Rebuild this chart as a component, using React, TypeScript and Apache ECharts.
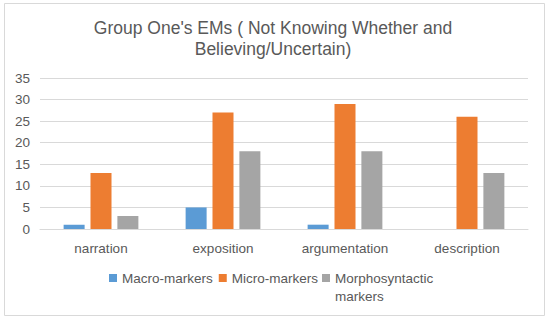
import React, { useEffect, useRef } from "react";
import * as echarts from "echarts";

const categories = ["narration", "exposition", "argumentation", "description"];
const macroMarkers = [1, 5, 1, 0];
const microMarkers = [13, 27, 29, 26];
const morphoMarkers = [3, 18, 18, 13];
const yTicks = { min: 0, max: 35, interval: 5 };

const FONT = "'Liberation Sans', Arial, sans-serif";

export default function App() {
  const ref = useRef<HTMLDivElement>(null);
  useEffect(() => {
    if (!ref.current) return;
    const chart = echarts.init(ref.current, undefined, { renderer: "svg" });
    const barCommon = {
      type: "bar" as const,
      barWidth: 21,
      barGap: "28%",
    };
    const legendText = {
      fontFamily: FONT,
      fontSize: 13.5,
      color: "#595959",
      lineHeight: 18,
    };
    chart.setOption({
      animation: false,
      backgroundColor: "#ffffff",
      textStyle: { fontFamily: FONT },
      title: {
        text: "Group One's EMs ( Not Knowing Whether and\nBelieving/Uncertain)",
        left: 268,
        top: 12,
        textAlign: "center",
        textStyle: {
          fontFamily: FONT,
          fontSize: 17.5,
          fontWeight: "normal",
          color: "#595959",
          lineHeight: 21,
        },
      },
      graphic: [
        {
          type: "rect",
          shape: { x: 4.5, y: 3.5, width: 540, height: 312 },
          style: { fill: "none", stroke: "#d9d9d9", lineWidth: 1 },
          silent: true,
        },
      ],
      legend: [
        {
          data: ["Macro-markers", "Micro-markers"],
          left: 104,
          top: 264,
          itemWidth: 8,
          itemHeight: 8,
          itemGap: 6,
          icon: "rect",
          textStyle: legendText,
        },
        {
          data: ["Morphosyntactic markers"],
          left: 317,
          top: 246,
          itemWidth: 8,
          itemHeight: 8,
          icon: "rect",
          formatter: () => " \nMorphosyntactic\nmarkers",
          textStyle: legendText,
        },
      ],
      grid: { left: 40, right: 22, top: 78, bottom: 92 },
      xAxis: {
        type: "category",
        data: categories,
        axisLine: { lineStyle: { color: "#d9d9d9" } },
        axisTick: { show: false },
        axisLabel: { color: "#595959", fontSize: 13.5, margin: 12, fontFamily: FONT },
      },
      yAxis: {
        type: "value",
        min: yTicks.min,
        max: yTicks.max,
        interval: yTicks.interval,
        axisLine: { show: false },
        axisTick: { show: false },
        splitLine: { lineStyle: { color: "#d9d9d9" } },
        axisLabel: { color: "#595959", fontSize: 13.5, margin: 10, fontFamily: FONT },
      },
      series: [
        { ...barCommon, name: "Macro-markers", data: macroMarkers, itemStyle: { color: "#5b9bd5" } },
        { ...barCommon, name: "Micro-markers", data: microMarkers, itemStyle: { color: "#ed7d31" } },
        { ...barCommon, name: "Morphosyntactic markers", data: morphoMarkers, itemStyle: { color: "#a5a5a5" } },
      ],
    });
    return () => chart.dispose();
  }, []);
  return (
    <div
      ref={ref}
      style={{ position: "fixed", left: 0, top: 0, width: 550, height: 321 }}
    />
  );
}
